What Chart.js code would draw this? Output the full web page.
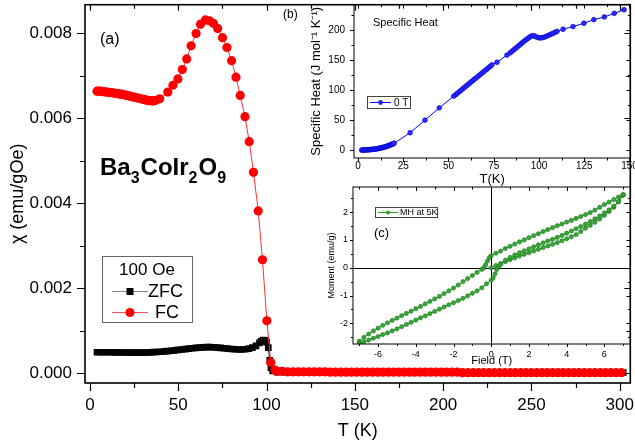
<!DOCTYPE html>
<html>
<head>
<meta charset="utf-8">
<script src="https://cdn.jsdelivr.net/npm/chart.js@4.4.1/dist/chart.umd.min.js"></script>
<style>
  body { margin: 0; background: #fff; }
  #wrap { position: relative; width: 635px; height: 445px; }
  canvas { position: absolute; }
</style>
</head>
<body>
<div id="wrap">
  <canvas id="chiChart" width="635" height="445" style="left:0;top:0"></canvas>
  <canvas id="cpChart" width="355" height="190" style="left:280px;top:0"></canvas>
  <canvas id="mhChart" width="355" height="190" style="left:280px;top:178px"></canvas>
</div>
<script>
// ---- data: (a) susceptibility, 100 Oe ----
const fcTemps = [
  4, 5, 6, 7, 8, 9, 10, 11, 12, 13,
  14, 15, 16, 17, 18, 19, 20, 21, 22, 23,
  24, 25, 26, 27, 28, 29, 30, 31, 32, 33,
  34, 35, 36, 37,
  39.5, 44.1, 47, 49.8, 52.3, 54.8, 57.3, 60.1, 62.6, 65.4,
  67.6, 69.9, 72.3, 75.1, 77.6, 80.2, 82.7, 85.1, 87.8, 90.2,
  92.6, 95.3, 97.7, 100.2, 102.4, 104.8,
  106, 109, 112, 115, 118, 121, 124, 127, 130, 133,
  136, 139, 142, 145, 148, 151, 154, 157, 160, 163,
  166, 169, 172, 175, 178, 181, 184, 187, 190, 193,
  196, 199, 202, 205, 208, 211, 214, 217, 220, 223,
  226, 229, 232, 235, 238, 241, 244, 247, 250, 253,
  256, 259, 262, 265, 268, 271, 274, 277, 280, 283,
  286, 289, 292, 295, 298, 301
];
const fcChi = [
  0.00664, 0.00664, 0.00664, 0.00663, 0.00663, 0.00662, 0.00662, 0.00661, 0.00661, 0.00660,
  0.00659, 0.00659, 0.00658, 0.00657, 0.00657, 0.00656, 0.00655, 0.00654, 0.00653, 0.00652,
  0.00651, 0.00650, 0.00649, 0.00648, 0.00647, 0.00646, 0.00645, 0.00644, 0.00643, 0.00642,
  0.00642, 0.00641, 0.00641, 0.00642,
  0.00646, 0.00662, 0.00678, 0.00693, 0.00715, 0.00740, 0.00771, 0.00800, 0.00822, 0.00832,
  0.00830, 0.00824, 0.00812, 0.00790, 0.00767, 0.00736, 0.00697, 0.00654, 0.00604, 0.00545,
  0.00473, 0.00382, 0.00267, 0.00123, 0.00025, 0.00007,
  0.00004, 0.00004, 0.00003, 0.00003, 0.00003, 0.00003, 0.00003, 0.00003, 0.00003, 0.00003,
  0.00002, 0.00002, 0.00002, 0.00002, 0.00002, 0.00002, 0.00002, 0.00002, 0.00002, 0.00002,
  0.00002, 0.00002, 0.00002, 0.00002, 0.00002, 0.00002, 0.00002, 0.00002, 0.00002, 0.00002,
  0.00002, 0.00002, 0.00002, 0.00002, 0.00002, 0.00001, 0.00001, 0.00001, 0.00001, 0.00001,
  0.00001, 0.00001, 0.00001, 0.00001, 0.00001, 0.00001, 0.00001, 0.00001, 0.00001, 0.00001,
  0.00001, 0.00001, 0.00001, 0.00001, 0.00001, 0.00001, 0.00001, 0.00001, 0.00001, 0.00001,
  0.00001, 0.00001, 0.00001, 0.00001, 0.00001, 0.00001
];
const zfcTemps = [
  4, 6, 8, 10, 12, 14, 16, 18, 20, 22,
  24, 26, 28, 30, 32, 34, 36, 38, 40, 42,
  44, 46, 48, 50, 52, 54, 56, 58, 60, 62,
  64, 66, 68, 70, 72, 74, 76, 78, 80, 82,
  84, 86, 88, 90, 92, 94, 96,
  97, 98, 99, 100, 101, 101.8, 102.5, 103.5,
  106, 110, 114, 118, 122, 126, 130, 134, 138, 142,
  146, 150, 154, 158, 162, 166, 170, 174, 178, 182,
  186, 190, 194, 198, 202, 206, 210, 214, 218, 222,
  226, 230, 234, 238, 242, 246, 250, 254, 258, 262,
  266, 270, 274, 278, 282, 286, 290, 294, 298, 302
];
const zfcChi = [
  0.000490, 0.000490, 0.000490, 0.000490, 0.000490, 0.000488, 0.000487, 0.000485, 0.000484, 0.000483,
  0.000482, 0.000482, 0.000482, 0.000483, 0.000485, 0.000488, 0.000492, 0.000497, 0.000503, 0.000510,
  0.000518, 0.000526, 0.000535, 0.000545, 0.000555, 0.000565, 0.000575, 0.000584, 0.000593, 0.000600,
  0.000606, 0.000610, 0.000610, 0.000607, 0.000601, 0.000593, 0.000584, 0.000575, 0.000566, 0.000560,
  0.000556, 0.000556, 0.000562, 0.000575, 0.000598, 0.000640, 0.000710,
  0.00075, 0.00078, 0.00077, 0.00073, 0.00060, 0.00030, 0.00012, 0.00005,
  0.00002, 0.00002, 0.00002, 0.00002, 0.00002, 0.00002, 0.00002, 0.00002, 0.00002, 0.00002,
  0.00002, 0.00002, 0.00002, 0.00002, 0.00002, 0.00002, 0.00002, 0.00002, 0.00002, 0.00002,
  0.00002, 0.00002, 0.00002, 0.00002, 0.00002, 0.00001, 0.00001, 0.00001, 0.00001, 0.00001,
  0.00001, 0.00001, 0.00001, 0.00001, 0.00001, 0.00001, 0.00001, 0.00001, 0.00001, 0.00001,
  0.00001, 0.00001, 0.00001, 0.00001, 0.00001, 0.00001, 0.00001, 0.00001, 0.00001, 0.00001
];

// ---- data: (b) specific heat, 0 T ----
const cpTemps = [
  2, 2.5, 3, 3.5, 4, 4.5, 5, 5.5, 6, 6.5,
  7, 7.5, 8, 8.5, 9, 9.5, 10, 10.5, 11, 11.5,
  12, 12.5, 13, 13.5, 14, 14.5, 15, 15.5, 16, 16.5,
  17, 17.5, 18, 18.5, 19, 19.5, 20,
  28.8, 37, 44.9, 52.9,
  54, 55, 56, 57, 58, 59, 60, 61, 62, 63,
  64, 65, 66, 67, 68, 69, 70, 71, 72, 73, 74,
  76.8, 82.3,
  84, 85, 86, 87, 88, 89, 90, 91, 92, 93,
  94, 95, 96, 97, 98, 99, 100, 101, 102, 103,
  104, 105, 106, 107, 108, 109, 110,
  113.3, 118.8, 124.8, 130.3, 136.1, 141.6, 147
];
const cpValues = [
  0.1, 0.15, 0.2, 0.25, 0.3, 0.4, 0.5, 0.6, 0.7, 0.85,
  1.0, 1.15, 1.3, 1.5, 1.7, 1.9, 2.1, 2.35, 2.6, 2.9,
  3.2, 3.55, 3.9, 4.3, 4.7, 5.1, 5.5, 6.0, 6.5, 7.0,
  7.6, 8.2, 8.8, 9.4, 10.0, 10.7, 11.5,
  29, 50, 70.5, 90,
  92.5, 95, 97.5, 100, 102.5, 105, 107.4, 109.9, 112.4, 114.8,
  117.3, 119.8, 122.2, 124.7, 127.2, 129.6, 132, 134.5, 137, 139.5, 142,
  146.5, 158.5,
  162, 164.5, 167, 169.5, 172, 174.5, 177, 179.5, 182, 184.3,
  186.5, 188.7, 190.5, 190.8, 189.5, 188, 187.2, 187, 187.5, 188.5,
  189.7, 191, 192.3, 193.7, 195, 196.5, 198,
  201.5, 206, 211.5, 217.5, 222, 228, 234
];

// ---- data: (c) M(H) loop at 5 K ----
const virginField = [
  0, 0.25, 0.5, 0.75, 1, 1.25, 1.5, 1.75, 2, 2.25,
  2.5, 2.75, 3, 3.25, 3.5, 3.75, 4, 4.25, 4.5, 4.75,
  5, 5.25, 5.5, 5.75, 6, 6.25, 6.5, 6.75, 7
];
const virginMoment = [
  0, 0.08, 0.15, 0.22, 0.29, 0.35, 0.42, 0.48, 0.54, 0.60,
  0.66, 0.72, 0.78, 0.84, 0.90, 0.97, 1.04, 1.11, 1.19, 1.30,
  1.42, 1.52, 1.63, 1.75, 1.88, 2.02, 2.17, 2.37, 2.60
];
const downField = [
  7, 6.75, 6.5, 6.25, 6, 5.75, 5.5, 5.25, 5, 4.75,
  4.5, 4.25, 4, 3.75, 3.5, 3.25, 3, 2.75, 2.5, 2.25,
  2, 1.75, 1.5, 1.25, 1, 0.75, 0.5, 0.25, 0, -0.1,
  -0.2, -0.3, -0.4, -0.5, -0.75, -1, -1.25, -1.5, -1.75, -2,
  -2.25, -2.5, -2.75, -3, -3.25, -3.5, -3.75, -4, -4.25, -4.5,
  -4.75, -5, -5.25, -5.5, -5.75, -6, -6.25, -6.5, -6.75, -7
];
const downMoment = [
  2.63, 2.54, 2.45, 2.36, 2.27, 2.17, 2.07, 1.98, 1.91, 1.84,
  1.77, 1.70, 1.64, 1.57, 1.51, 1.44, 1.37, 1.30, 1.22, 1.15,
  1.08, 1.00, 0.93, 0.85, 0.77, 0.69, 0.60, 0.52, 0.43, 0.36,
  0.24, 0.10, 0.00, -0.06, -0.17, -0.28, -0.39, -0.50, -0.62, -0.73,
  -0.83, -0.93, -1.03, -1.12, -1.21, -1.30, -1.39, -1.47, -1.56, -1.64,
  -1.72, -1.81, -1.89, -1.98, -2.07, -2.17, -2.27, -2.38, -2.50, -2.64
];
const upField = [
  -7, -6.75, -6.5, -6.25, -6, -5.75, -5.5, -5.25, -5, -4.75,
  -4.5, -4.25, -4, -3.75, -3.5, -3.25, -3, -2.75, -2.5, -2.25,
  -2, -1.75, -1.5, -1.25, -1, -0.75, -0.5, -0.25, 0, 0.1,
  0.2, 0.3, 0.4, 0.5, 0.75, 1, 1.25, 1.5, 1.75, 2,
  2.25, 2.5, 2.75, 3, 3.25, 3.5, 3.75, 4, 4.25, 4.5,
  4.75, 5, 5.25, 5.5, 5.75, 6, 6.25, 6.5, 6.75, 7
];
const upMoment = [
  -2.72, -2.66, -2.60, -2.53, -2.47, -2.40, -2.34, -2.27, -2.20, -2.12,
  -2.04, -1.96, -1.88, -1.80, -1.73, -1.65, -1.57, -1.49, -1.41, -1.33,
  -1.26, -1.18, -1.10, -1.01, -0.92, -0.83, -0.72, -0.58, -0.45, -0.36,
  -0.22, -0.06, 0.04, 0.12, 0.27, 0.37, 0.46, 0.54, 0.61, 0.68,
  0.75, 0.82, 0.89, 0.96, 1.02, 1.09, 1.16, 1.24, 1.32, 1.40,
  1.48, 1.57, 1.66, 1.76, 1.86, 1.97, 2.08, 2.21, 2.38, 2.62
];

const FONT = '"Liberation Sans", Arial, sans-serif';
Chart.defaults.font.family = FONT;
Chart.defaults.color = '#000';
Chart.defaults.animation = false;

function pairs(xs, ys) {
    return xs.map((v, i) => ({ x: v, y: ys[i] }));
}

// force plot box size so the three panels line up
function fixWidth(w) {
    return scale => {
        scale.width = w;
        scale.paddingLeft = scale.paddingRight = scale.paddingTop = scale.paddingBottom = 0;
    };
}
function fixHeight(h) {
    return scale => {
        scale.height = h;
        scale.paddingLeft = scale.paddingRight = scale.paddingTop = scale.paddingBottom = 0;
    };
}

// frame + major/minor ticks (outside on bottom/left, inside on top/right)
function drawFrame(chart, o) {
    const { ctx, chartArea: a } = chart;
    const xs = chart.scales.x, ys = chart.scales.y;
    ctx.save();
    ctx.strokeStyle = '#000';
    ctx.lineWidth = o.frame;
    ctx.strokeRect(a.left, a.top, a.right - a.left, a.bottom - a.top);
    ctx.lineWidth = o.tick;
    ctx.beginPath();
    let k0 = Math.ceil(xs.min / o.xMinor - 1e-9);
    for (let k = k0; k * o.xMinor <= xs.max + 1e-9; k++) {
        const v = k * o.xMinor;
        const px = Math.round(xs.getPixelForValue(v)) + 0.5;
        const major = k % o.xEvery === 0;
        const out = major ? o.outMajor : o.outMinor;
        const inn = major ? o.inMajor : o.inMinor;
        ctx.moveTo(px, a.bottom); ctx.lineTo(px, a.bottom + out);
        ctx.moveTo(px, a.top); ctx.lineTo(px, a.top + inn);
    }
    k0 = Math.ceil(ys.min / o.yMinor - 1e-9);
    for (let k = k0; k * o.yMinor <= ys.max + 1e-12; k++) {
        const v = k * o.yMinor;
        const py = Math.round(ys.getPixelForValue(v)) + 0.5;
        const major = k % o.yEvery === 0;
        const out = major ? o.outMajor : o.outMinor;
        const inn = major ? o.inMajor : o.inMinor;
        ctx.moveTo(a.left, py); ctx.lineTo(a.left - out, py);
        ctx.moveTo(a.right, py); ctx.lineTo(a.right - inn, py);
    }
    ctx.stroke();
    ctx.restore();
}

// ================= (a) main panel =================
const chiExtras = {
    id: 'chiExtras',
    afterDraw(chart) {
        drawFrame(chart, {
            frame: 1.6, tick: 1.2, xMinor: 25, xEvery: 2, yMinor: 0.001, yEvery: 2,
            outMajor: 8, outMinor: 5, inMajor: 6, inMinor: 4
        });
        const ctx = chart.ctx;
        ctx.save();
        ctx.fillStyle = '#000';
        ctx.textBaseline = 'alphabetic';
        ctx.font = '16px ' + FONT;
        ctx.fillText('(a)', 100, 44);

        // compound name with subscripts
        let x = 100;
        const parts = [['Ba', 0], ['3', 1], ['CoIr', 0], ['2', 1], ['O', 0], ['9', 1]];
        parts.forEach(([t, sub]) => {
            ctx.font = (sub ? 'bold 16px ' : 'bold 24px ') + FONT;
            ctx.fillText(t, x, sub ? 183 : 175);
            x += ctx.measureText(t).width + (sub ? 1 : 0);
        });

        // legend box
        ctx.strokeStyle = '#666';
        ctx.lineWidth = 1;
        ctx.strokeRect(102.5, 256.5, 90, 66);
        ctx.textBaseline = 'middle';
        ctx.textAlign = 'center';
        ctx.font = '17px ' + FONT;
        ctx.fillText('100 Oe', 147, 270);
        ctx.textAlign = 'left';

        ctx.strokeStyle = '#888';
        ctx.beginPath(); ctx.moveTo(112, 291.5); ctx.lineTo(148, 291.5); ctx.stroke();
        ctx.fillStyle = '#000';
        ctx.fillRect(126.5, 288, 7, 7);
        ctx.font = '18px ' + FONT;
        ctx.fillText('ZFC', 148, 292);

        ctx.strokeStyle = '#ff5050';
        ctx.beginPath(); ctx.moveTo(112, 312.5); ctx.lineTo(148, 312.5); ctx.stroke();
        ctx.fillStyle = '#ff0000';
        ctx.beginPath(); ctx.arc(130, 312.5, 4.6, 0, Math.PI * 2); ctx.fill();
        ctx.fillStyle = '#000';
        ctx.fillText('FC', 155, 313);
        ctx.restore();
    }
};

new Chart(document.getElementById('chiChart'), {
    type: 'scatter',
    data: {
        datasets: [
            {
                label: 'FC',
                data: pairs(fcTemps, fcChi),
                showLine: true,
                borderColor: '#ff3030',
                borderWidth: 1,
                pointRadius: 4.6,
                pointBackgroundColor: '#ff0000',
                pointBorderColor: '#ff0000',
                pointBorderWidth: 0,
                order: 0
            },
            {
                label: 'ZFC',
                data: pairs(zfcTemps, zfcChi),
                showLine: true,
                borderColor: '#000',
                borderWidth: 1,
                pointStyle: 'rect',
                pointRadius: 4.7,
                pointBackgroundColor: '#000',
                pointBorderColor: '#000',
                pointBorderWidth: 0,
                order: 1
            }
        ]
    },
    options: {
        responsive: false,
        layout: { padding: { left: 0, right: 2, top: 2, bottom: 0 } },
        plugins: { legend: { display: false }, tooltip: { enabled: false } },
        scales: {
            x: {
                type: 'linear',
                min: -2.8,
                max: 306,
                afterFit: fixHeight(62),
                grid: { display: false, drawTicks: false },
                border: { display: false },
                ticks: {
                    stepSize: 50, includeBounds: false, autoSkip: false, maxRotation: 0,
                    padding: 12, font: { size: 17 }, color: '#000'
                },
                title: {
                    display: true, text: 'T (K)', color: '#000',
                    font: { size: 18 }, padding: { top: 0, bottom: 3 }
                }
            },
            y: {
                type: 'linear',
                min: -0.000234,
                max: 0.008678,
                afterFit: fixWidth(85),
                grid: { display: false, drawTicks: false },
                border: { display: false },
                ticks: {
                    stepSize: 0.002, includeBounds: false, autoSkip: false,
                    padding: 13, font: { size: 17 }, color: '#000',
                    callback: v => (Math.abs(v) < 1e-9 ? 0 : v).toFixed(3)
                },
                title: {
                    display: true, text: 'χ (emu/gOe)', color: '#000',
                    font: { size: 18 }, padding: { top: 7, bottom: 0 }
                }
            }
        }
    },
    plugins: [chiExtras]
});

// ================= (b) specific heat inset =================
const cpExtras = {
    id: 'cpExtras',
    afterDraw(chart) {
        drawFrame(chart, {
            frame: 1, tick: 1, xMinor: 12.5, xEvery: 2, yMinor: 25, yEvery: 2,
            outMajor: 4, outMinor: 2.5, inMajor: 4, inMinor: 2.5
        });
        const ctx = chart.ctx;
        ctx.save();
        ctx.fillStyle = '#000';
        ctx.textBaseline = 'middle';
        ctx.font = '12px ' + FONT;
        ctx.fillText('(b)', 3, 15);
        ctx.font = '11px ' + FONT;
        ctx.fillText('Specific Heat', 93, 23);

        ctx.strokeStyle = '#444';
        ctx.lineWidth = 1;
        ctx.strokeRect(87.5, 96.5, 43, 12);
        ctx.strokeStyle = '#0000ff';
        ctx.beginPath(); ctx.moveTo(90, 102.5); ctx.lineTo(111, 102.5); ctx.stroke();
        ctx.fillStyle = '#2020ff';
        ctx.beginPath(); ctx.arc(100.5, 102.5, 2.4, 0, Math.PI * 2); ctx.fill();
        ctx.fillStyle = '#000';
        ctx.font = '10px ' + FONT;
        ctx.fillText('0 T', 114, 103);
        ctx.restore();
    }
};

new Chart(document.getElementById('cpChart'), {
    type: 'scatter',
    data: {
        datasets: [{
            label: '0 T',
            data: pairs(cpTemps, cpValues),
            showLine: true,
            borderColor: '#0000ff',
            borderWidth: 1,
            pointRadius: 2.4,
            pointBackgroundColor: '#2a2aff',
            pointBorderColor: '#0000c8',
            pointBorderWidth: 0.6
        }]
    },
    options: {
        responsive: false,
        layout: { padding: { left: 0, right: 2, top: 2, bottom: 0 } },
        plugins: { legend: { display: false }, tooltip: { enabled: false } },
        scales: {
            x: {
                type: 'linear',
                min: -2.2,
                max: 150.5,
                afterFit: fixHeight(32),
                grid: { display: false, drawTicks: false },
                border: { display: false },
                ticks: {
                    stepSize: 25, includeBounds: false, autoSkip: false, maxRotation: 0,
                    padding: 2, font: { size: 10 }, color: '#000'
                },
                title: {
                    display: true, text: 'T(K)', color: '#000',
                    font: { size: 13 }, padding: { top: 0, bottom: 3 }
                }
            },
            y: {
                type: 'linear',
                min: -13.1,
                max: 242.6,
                afterFit: fixWidth(74),
                grid: { display: false, drawTicks: false },
                border: { display: false },
                ticks: {
                    stepSize: 50, includeBounds: false, autoSkip: false,
                    padding: 9, font: { size: 10 }, color: '#000'
                },
                title: {
                    display: true, text: 'Specific Heat (J mol⁻¹ K⁻¹)', color: '#000',
                    font: { size: 13 }, padding: { top: 29, bottom: 0 }
                }
            }
        }
    },
    plugins: [cpExtras]
});

// ================= (c) M(H) inset =================
const mhExtras = {
    id: 'mhExtras',
    beforeDatasetsDraw(chart) {
        const { ctx, chartArea: a } = chart;
        const x0 = Math.round(chart.scales.x.getPixelForValue(0)) + 0.5;
        const y0 = Math.round(chart.scales.y.getPixelForValue(0)) + 0.5;
        ctx.save();
        ctx.strokeStyle = '#000';
        ctx.lineWidth = 1;
        ctx.beginPath();
        ctx.moveTo(x0, a.top); ctx.lineTo(x0, a.bottom);
        ctx.moveTo(a.left, y0); ctx.lineTo(a.right, y0);
        ctx.stroke();
        ctx.restore();
    },
    afterDraw(chart) {
        drawFrame(chart, {
            frame: 1, tick: 1, xMinor: 1, xEvery: 2, yMinor: 0.5, yEvery: 2,
            outMajor: 3, outMinor: 2, inMajor: 4, inMinor: 2.5
        });
        const ctx = chart.ctx;
        ctx.save();
        ctx.textBaseline = 'middle';
        ctx.strokeStyle = '#444';
        ctx.lineWidth = 1;
        ctx.strokeRect(95.5, 29.5, 62, 10);
        ctx.strokeStyle = '#2a9a2a';
        ctx.beginPath(); ctx.moveTo(98, 34.5); ctx.lineTo(118, 34.5); ctx.stroke();
        ctx.fillStyle = '#2a9a2a';
        ctx.beginPath(); ctx.arc(108, 34.5, 2, 0, Math.PI * 2); ctx.fill();
        ctx.fillStyle = '#000';
        ctx.font = '9px ' + FONT;
        ctx.fillText('MH at 5K', 120, 35);
        ctx.font = '13px ' + FONT;
        ctx.fillText('(c)', 94, 55);
        ctx.restore();
    }
};

new Chart(document.getElementById('mhChart'), {
    type: 'scatter',
    data: {
        datasets: [{
            label: 'MH at 5K',
            data: pairs(virginField, virginMoment)
                .concat(pairs(downField, downMoment))
                .concat(pairs(upField, upMoment)),
            showLine: true,
            borderColor: '#2a9a2a',
            borderWidth: 1,
            pointRadius: 2.1,
            pointBackgroundColor: '#38a838',
            pointBorderColor: '#127012',
            pointBorderWidth: 0.6
        }]
    },
    options: {
        responsive: false,
        layout: { padding: { left: 0, right: 2, top: 9, bottom: 0 } },
        plugins: { legend: { display: false }, tooltip: { enabled: false } },
        scales: {
            x: {
                type: 'linear',
                min: -7.33,
                max: 7.38,
                afterFit: fixHeight(24),
                grid: { display: false, drawTicks: false },
                border: { display: false },
                ticks: {
                    stepSize: 2, includeBounds: false, autoSkip: false, maxRotation: 0,
                    padding: 5, font: { size: 9 }, color: '#000'
                },
                title: {
                    display: true, text: 'Field (T)', color: '#000',
                    font: { size: 11 }, padding: { top: 0, bottom: 0 }
                }
            },
            y: {
                type: 'linear',
                min: -2.74,
                max: 2.9,
                afterFit: fixWidth(73),
                grid: { display: false, drawTicks: false },
                border: { display: false },
                ticks: {
                    stepSize: 1, includeBounds: false, autoSkip: false,
                    padding: 5, font: { size: 9 }, color: '#000'
                },
                title: {
                    display: true, text: 'Moment (emu/g)', color: '#000',
                    font: { size: 9 }, padding: { top: 46, bottom: 0 }
                }
            }
        }
    },
    plugins: [mhExtras]
});
</script>
</body>
</html>
